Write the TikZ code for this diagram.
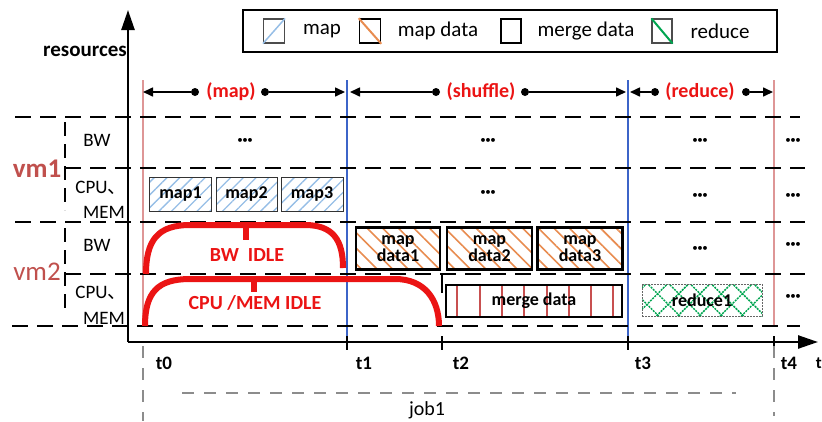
\documentclass[tikz,border=0pt]{standalone}
\usepackage{fontspec}
\setmainfont{Carlito}
\newfontfamily\cjk{Noto Sans CJK SC}
\usetikzlibrary{arrows.meta,patterns.meta}
\definecolor{idlered}{RGB}{235,20,20}
\definecolor{vmred}{RGB}{192,80,77}
\definecolor{pinkl}{RGB}{222,150,150}
\definecolor{bluel}{RGB}{60,100,200}
\definecolor{hatchblue}{RGB}{150,190,230}
\definecolor{hatchorange}{RGB}{232,140,80}
\definecolor{hatchgreen}{RGB}{0,165,80}
\definecolor{mergered}{RGB}{200,80,80}
\definecolor{jobgray}{RGB}{140,140,140}
\tikzset{
  rowline/.style={line width=2.5pt,dash pattern=on 16pt off 9pt},
  bracket/.style={line width=2.5pt,dash pattern=on 14pt off 8pt},
  axis/.style={line width=2.5pt,-{Triangle[length=20pt,width=13pt]}},
  phase/.style={line width=1.6pt,-{Triangle[length=10pt,width=9pt]}},
  dotc/.style={circle,fill=black,inner sep=0pt,minimum size=8pt},
  phasetxt/.style={text=idlered,font=\fontsize{20}{20}\selectfont\bfseries},
  idle/.style={draw=idlered,line width=6pt},
  idletxt/.style={text=idlered,font=\fontsize{20}{20}\selectfont\bfseries},
  rowlbl/.style={font=\fontsize{19}{19}\selectfont,align=center},
  vmlbl/.style={text=vmred,font=\fontsize{27}{27}\selectfont},
  tlbl/.style={font=\fontsize{19}{19}\selectfont\bfseries},
  dots/.style={font=\fontsize{11}{11}\selectfont},
  mapbox/.style={draw=black!80,line width=1pt,inner sep=0pt,
    pattern={Lines[angle=45,distance=9pt,line width=1.3pt]},pattern color=hatchblue},
  mdbox/.style={draw=black,line width=2.5pt,inner sep=0pt,
    pattern={Lines[angle=-45,distance=11pt,line width=1.6pt]},pattern color=hatchorange},
  boxtxt/.style={font=\fontsize{18}{17}\selectfont\bfseries,align=center,inner sep=0pt},
  legtxt/.style={font=\fontsize{21}{21}\selectfont,anchor=center},
  gline/.style={draw=jobgray,line width=1.6pt,dash pattern=on 12pt off 10pt}
}
\begin{document}
\begin{tikzpicture}[x=1pt,y=-1pt]
\useasboundingbox (0,0) rectangle (822,421);

% phase vertical lines
\draw[pinkl,line width=1.5pt] (143,80) coordinate (p0t) -- (143,326) coordinate (p0b);
\draw[bluel,line width=2pt] (347,80) coordinate (b1t) -- (347,342) coordinate (b1b);
\draw[bluel,line width=2pt] (628,80) coordinate (b3t) -- (628,342) coordinate (b3b);
\draw[pinkl,line width=1.5pt] (774,80) coordinate (p4t) -- (774,326) coordinate (p4b);

% row dashed lines
\draw[rowline] (15,117) coordinate (r1a) -- (800,117) coordinate (r1b);
\draw[rowline] (65,168) coordinate (r2a) -- (805,168) coordinate (r2b);
\draw[rowline] (15,222) coordinate (r3a) -- (805,222) coordinate (r3b);
\draw[rowline] (65,274) coordinate (r4a) -- (805,274) coordinate (r4b);
\draw[rowline] (12,326) coordinate (r5a) -- (800,326) coordinate (r5b);

% brackets
\draw[bracket] (65,122) coordinate (k1a) -- (65,210) coordinate (k1b);
\draw[bracket] (65,228) coordinate (k2a) -- (65,314) coordinate (k2b);

% axes
\coordinate (O) at (128,342);
\coordinate (ytop) at (128,10);
\coordinate (xend) at (818,342);
\draw[axis] (O) -- (ytop);
\draw[axis] (O) -- (xend);
\node[font=\fontsize{17}{17}\selectfont\bfseries,anchor=east,inner sep=0pt] (tax) at (822,363) {t};

% ticks
\foreach \x/\n in {347/1,442/2,628/3,774/4}{
  \draw[line width=2pt] (\x,336) coordinate (tk\n a) -- (\x,350) coordinate (tk\n b);
}
\draw[line width=2.5pt] (442,275) coordinate (sma) -- (442,293) coordinate (smb);

% labels left
\node[font=\fontsize{21}{21}\selectfont\bfseries] (res) at (85,51) {resources};
\node[vmlbl,font=\fontsize{27}{27}\selectfont\bfseries] (vm1) at (37,169) {vm1};
\node[vmlbl] (vm2) at (37,272) {vm2};
\node[rowlbl] (bw1) at (97,140) {BW};
\node[rowlbl] (cpu1) at (101,188) {CPU{\cjk 、}};
\node[rowlbl] (mem1) at (104,212) {MEM};
\node[rowlbl] (bw2) at (97,245) {BW};
\node[rowlbl] (cpu2) at (101,293) {CPU{\cjk 、}};
\node[rowlbl] (mem2) at (104,318) {MEM};

% phase arrows
\node[dotc] (d1) at (195,92) {};
\node[dotc] (d2) at (265,92) {};
\node[phasetxt] (tmap) at (231,92) {(map)};
\coordinate (m0) at (143,92);
\coordinate (m1) at (345,92);
\draw[phase] (d1) -- (m0);
\draw[phase] (d2) -- (m1);
\node[dotc] (d3) at (436,92) {};
\node[dotc] (d4) at (525,92) {};
\node[phasetxt] (tshuf) at (481,92) {(shuffle)};
\coordinate (s0) at (350,92);
\coordinate (s1) at (626,92);
\draw[phase] (d3) -- (s0);
\draw[phase] (d4) -- (s1);
\node[dotc] (d5) at (655,92) {};
\node[dotc] (d6) at (746,92) {};
\node[phasetxt] (tred) at (700,92) {(reduce)};
\coordinate (q0) at (630,92);
\coordinate (q1) at (773,92);
\draw[phase] (d5) -- (q0);
\draw[phase] (d6) -- (q1);

% legend
\draw[line width=2.5pt] (243,10) rectangle (777,52);
\node[draw=black!70,line width=1.2pt,minimum width=21pt,minimum height=24pt,inner sep=0pt] (lg1) at (274,31) {};
\draw[hatchblue,line width=1.5pt] (lg1.south west) -- (lg1.north east);
\node[legtxt] (lt1) at (322,31) {map};
\node[draw=black,line width=1.6pt,minimum width=21pt,minimum height=24pt,inner sep=0pt] (lg2) at (370,31) {};
\draw[hatchorange,line width=2pt] (lg2.north west) -- (lg2.south east);
\node[legtxt] (lt2) at (438,31) {map data};
\node[draw=black,line width=2.2pt,minimum width=20pt,minimum height=24pt,inner sep=0pt] (lg3) at (511,31) {};
\node[legtxt] (lt3) at (586,31) {merge data};
\node[draw=black!70,line width=1.2pt,minimum width=20pt,minimum height=24pt,inner sep=0pt] (lg4) at (662,31) {};
\draw[hatchgreen,line width=2pt] (lg4.north west) -- (lg4.south east);
\node[legtxt] (lt4) at (720,31) {reduce};

% map boxes
\node[mapbox,minimum width=62pt,minimum height=34pt] (map1) at (180.5,194) {};
\node[boxtxt] at (map1) {map1};
\node[mapbox,minimum width=61pt,minimum height=34pt] (map2) at (246.5,194) {};
\node[boxtxt] at (map2) {map2};
\node[mapbox,minimum width=62pt,minimum height=34pt] (map3) at (312,194) {};
\node[boxtxt] at (map3) {map3};

% map data boxes
\node[mdbox,minimum width=84pt,minimum height=42pt] (md1) at (398,248.5) {};
\node[boxtxt] at (md1) {map\\data1};
\node[mdbox,minimum width=85pt,minimum height=42pt] (md2) at (489.5,248.5) {};
\node[boxtxt] at (md2) {map\\data2};
\node[mdbox,minimum width=85pt,minimum height=42pt] (md3) at (580,248.5) {};
\node[boxtxt] at (md3) {map\\data3};

% merge data
\foreach \x in {457,480,502,524,547,569,591,613}{
  \draw[mergered,line width=1.3pt] (\x,286) -- (\x,316);
}
\node[draw=black,line width=2.5pt,minimum width=176pt,minimum height=32pt,inner sep=0pt] (merge) at (534,301) {};
\node[boxtxt] (mergetxt) at (534,301) {merge data};

% reduce
\node[draw=black!60,line width=1pt,dash pattern=on 2pt off 1pt,minimum width=120pt,minimum height=32pt,inner sep=0pt,
  pattern={Hatch[angle=45,distance=15pt,line width=1.5pt]},pattern color=hatchgreen] (red1) at (702,300) {};
\node[boxtxt] at (red1) {reduce1};

% idle shapes
\draw[idle] (146,274) .. controls (146,240) and (158,225) .. (190,225) -- (305,225) .. controls (333,225) and (343,240) .. (343,268);
\draw[idle] (246,225) -- (246,240);
\node[idletxt] (bwidle) at (247,255) {BW\ \ IDLE};
\draw[idle] (145,326) .. controls (145,292) and (158,279) .. (190,279) -- (395,279) .. controls (425,279) and (439,300) .. (439,326);
\draw[idle] (254,279) -- (254,292);
\node[idletxt] (cpuidle) at (255,303) {CPU /MEM IDLE};

% dots
\foreach \x/\y in {245/141,488/141,700/141,793/141,488/193,700/196,793/196,700/249,793/245,793/297}{
  \node[dots] at (\x,\y) {\textbullet\kern-0.5pt\textbullet\kern-0.5pt\textbullet};
}

% time labels
\node[tlbl] (t0) at (164,363) {t0};
\node[tlbl] (t1) at (364,363) {t1};
\node[tlbl] (t2) at (461,363) {t2};
\node[tlbl] (t3) at (643,363) {t3};
\node[tlbl] (t4) at (789,363) {t4};

% job span
\draw[gline] (143,346) coordinate (g0a) -- (143,421) coordinate (g0b);
\draw[gline] (774,346) coordinate (g4a) -- (774,416) coordinate (g4b);
\draw[gline] (182,393) coordinate (ga) -- (736,393) coordinate (gb);
\node[font=\fontsize{20}{20}\selectfont] (job) at (427,410) {job1};
\end{tikzpicture}
\end{document}
